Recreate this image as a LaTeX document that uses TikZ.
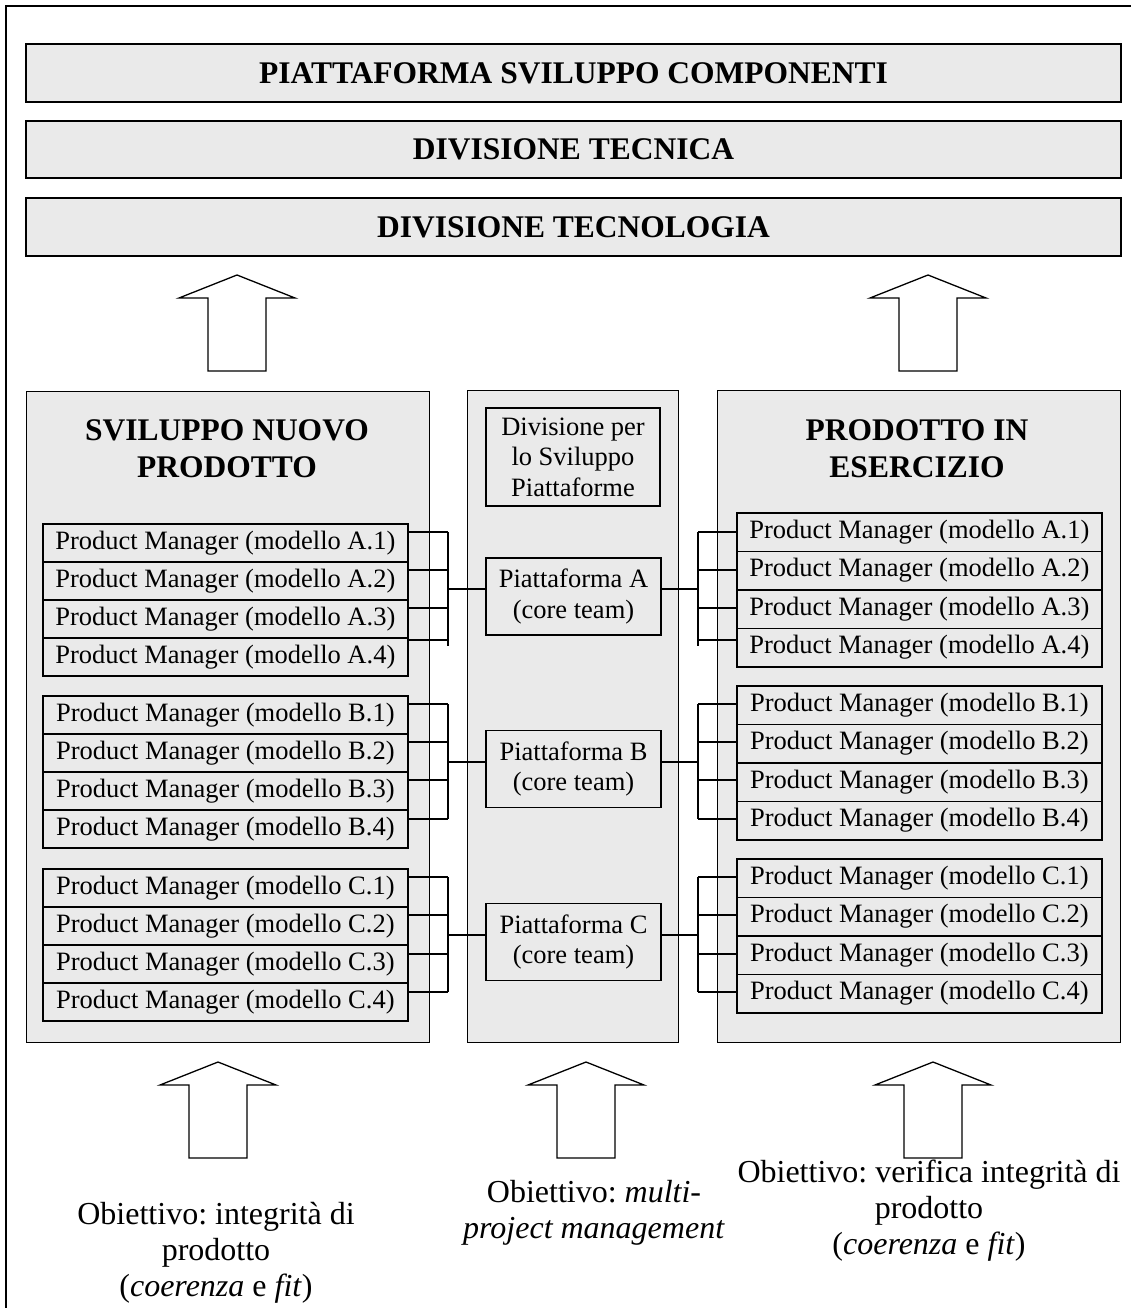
\documentclass[tikz,border=0pt]{standalone}
\usepackage{fontspec}
\setmainfont{Liberation Serif}
\frenchspacing
\definecolor{boxgray}{HTML}{EAEAEA}
\newcommand\pmfont{\fontsize{26.5}{30.5}\selectfont}
\newcommand\headfont{\fontsize{31.5}{37}\selectfont\bfseries}
\newcommand\goalfont{\fontsize{32}{36}\selectfont}
\tikzset{
  topbox/.style={draw=black, line width=1.6pt, fill=boxgray, minimum width=1095pt, minimum height=58pt, inner sep=0pt, font=\headfont},
  colbox/.style={draw=black, line width=1.1pt, fill=boxgray, inner sep=0pt, anchor=north west},
  pmbox/.style={draw=black, line width=1.6pt, fill=boxgray, minimum width=365pt, minimum height=38pt, inner sep=0pt, font=\pmfont, anchor=north west},
  platbox/.style={draw=black, line width=1.6pt, fill=boxgray, minimum width=175pt, minimum height=77pt, inner sep=0pt, font=\pmfont, align=center},
  wire/.style={line width=1.5pt},
  goaltext/.style={font=\goalfont, align=center, inner sep=0pt},
  coltitle/.style={font=\headfont, align=center, inner sep=0pt},
  hollowarrow/.pic={\draw[line width=1.3pt, fill=white] (0,0) -- (58,23) -- (29,23) -- (29,96) -- (-29,96) -- (-29,23) -- (-58,23) -- cycle;}
}
\begin{document}
\begin{tikzpicture}[x=1pt,y=-1pt]
\useasboundingbox (0,0) rectangle (1131,1308);
\fill[white] (0,0) rectangle (1131,1308);
\draw[line width=2pt] (6,1308) -- (6,6) -- (1131,6);

% top boxes
\node[topbox] (T1) at (573.5,73) {PIATTAFORMA SVILUPPO COMPONENTI};
\node[topbox, minimum height=57pt] (T2) at (573.5,149.5) {DIVISIONE TECNICA};
\node[topbox] (T3) at (573.5,227) {DIVISIONE TECNOLOGIA};

% top arrows
\pic at (237,275) {hollowarrow};
\pic at (928,275) {hollowarrow};

% columns
\node[colbox, minimum width=403pt, minimum height=651pt] (colL) at (26,391) {};
\node[colbox, minimum width=211pt, minimum height=652pt] (colM) at (467,390) {};
\node[colbox, minimum width=403pt, minimum height=652pt] (colR) at (717,390) {};

\node[coltitle] (hL) at (227,449) {SVILUPPO NUOVO\\PRODOTTO};
\node[coltitle] (hR) at (917,449) {PRODOTTO IN\\ESERCIZIO};

% product manager boxes
\foreach \g/\ly/\ry in {A/523/512,B/695/685,C/868/858}{
  \foreach \i in {1,2,3,4}{
    \node[pmbox] (L\g\i) at (42,{\ly+(\i-1)*38}) {Product Manager (modello \g.\i)};
    \node[pmbox, minimum height=38.5pt] (R\g\i) at (736,{\ry+(\i-1)*38.5}) {Product Manager (modello \g.\i)};
  }
}

% middle column boxes
\node[platbox, minimum width=174pt, minimum height=98pt] (div) at (573,457) {Divisione per\\lo Sviluppo\\Piattaforme};
\node[platbox] (pA) at (573.5,596.5) {Piattaforma A\\(core team)};
\node[platbox] (pB) at (573.5,769) {Piattaforma B\\(core team)};
\node[platbox] (pC) at (573.5,942) {Piattaforma C\\(core team)};

% bracket wires
\foreach \n/\y in {A1/532,A2/570,A3/608,A4/640,B1/704,B2/742,B3/780,B4/819,C1/877,C2/915,C3/954,C4/992}{
  \coordinate (bL\n) at (448,\y);
  \coordinate (bR\n) at (698,\y);
  \draw[wire] (L\n.east |- bL\n) -- (bL\n);
  \draw[wire] (R\n.west |- bR\n) -- (bR\n);
}
\coordinate (bLAend) at (448,646);
\coordinate (bRAend) at (698,646);
\draw[wire] (bLA1) -- (bLAend);
\draw[wire] (bRA1) -- (bRAend);
\draw[wire] (bLB1) -- (bLB4);
\draw[wire] (bRB1) -- (bRB4);
\draw[wire] (bLC1) -- (bLC4);
\draw[wire] (bRC1) -- (bRC4);

\foreach \p/\y in {A/589,B/762,C/935}{
  \coordinate (mL\p) at (448,\y);
  \coordinate (mR\p) at (698,\y);
  \draw[wire] (mL\p) -- (p\p.west |- mL\p);
  \draw[wire] (p\p.east |- mR\p) -- (mR\p);
}

% bottom arrows
\pic at (218,1062) {hollowarrow};
\pic at (586,1062) {hollowarrow};
\pic at (933,1062) {hollowarrow};

% goals
\node[goaltext] (gL) at (216,1253) {Obiettivo: integrità di\\prodotto\\(\textit{coerenza} e \textit{fit})};
\node[goaltext] (gM) at (594,1213) {Obiettivo: \textit{multi-}\\\textit{project management}};
\node[goaltext] (gR) at (929,1211) {Obiettivo: verifica integrità di\\prodotto\\(\textit{coerenza} e \textit{fit})};
\end{tikzpicture}
\end{document}
